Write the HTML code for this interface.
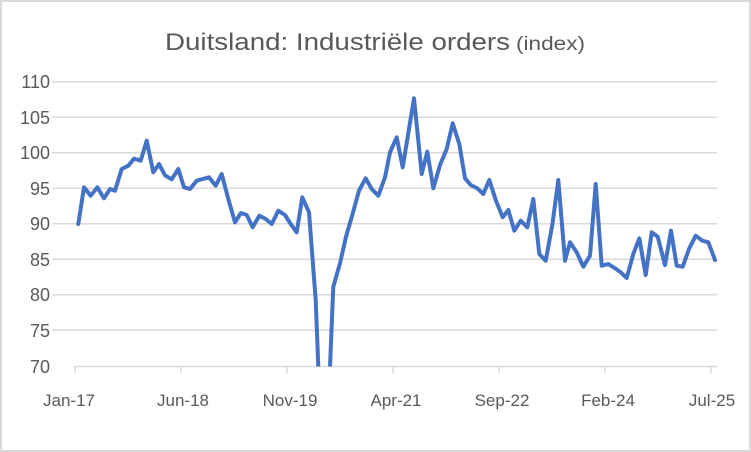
<!DOCTYPE html>
<html><head><meta charset="utf-8"><style>
html,body{margin:0;padding:0;background:#fff}
svg{display:block}
text{font-family:"Liberation Sans",sans-serif;fill:#595959}
</style></head><body>
<svg width="751" height="452" viewBox="0 0 751 452">
<rect x="1" y="1" width="749" height="450" fill="#fff" stroke="#d9d9d9" stroke-width="2"/>
<text x="165" y="50" font-size="24" textLength="345" lengthAdjust="spacingAndGlyphs">Duitsland: Industriële orders</text>
<text x="516" y="50" font-size="19" textLength="69" lengthAdjust="spacingAndGlyphs">(index)</text>
<g stroke="#d9d9d9" stroke-width="1.5">
<line x1="52" x2="717" y1="81.7" y2="81.7"/>
<line x1="52" x2="717" y1="117.2" y2="117.2"/>
<line x1="52" x2="717" y1="152.7" y2="152.7"/>
<line x1="52" x2="717" y1="188.2" y2="188.2"/>
<line x1="52" x2="717" y1="223.7" y2="223.7"/>
<line x1="52" x2="717" y1="259.2" y2="259.2"/>
<line x1="52" x2="717" y1="294.7" y2="294.7"/>
<line x1="52" x2="717" y1="330.2" y2="330.2"/>
<line x1="75" x2="717" y1="366.5" y2="366.5"/>
<line x1="75" x2="75" y1="366" y2="373"/>
<line x1="181" x2="181" y1="366" y2="373"/>
<line x1="287" x2="287" y1="366" y2="373"/>
<line x1="393" x2="393" y1="366" y2="373"/>
<line x1="499" x2="499" y1="366" y2="373"/>
<line x1="605" x2="605" y1="366" y2="373"/>
<line x1="711" x2="711" y1="366" y2="373"/>
</g>
<g font-size="18" text-anchor="end">
<text x="50" y="88">110</text><text x="50" y="124">105</text><text x="50" y="159">100</text>
<text x="50" y="195">95</text><text x="50" y="230">90</text><text x="50" y="266">85</text>
<text x="50" y="301">80</text><text x="50" y="337">75</text><text x="50" y="373">70</text>
</g>
<g font-size="17" text-anchor="middle">
<text x="69" y="406">Jan-17</text><text x="183" y="406">Jun-18</text><text x="290" y="406">Nov-19</text>
<text x="396" y="406">Apr-21</text><text x="502" y="406">Sep-22</text><text x="608" y="406">Feb-24</text>
<text x="712" y="406">Jul-25</text>
</g>
<clipPath id="c"><rect x="52" y="60" width="680" height="306.5"/></clipPath>
<polyline clip-path="url(#c)" fill="none" stroke="#4472c4" stroke-width="4" stroke-linejoin="round" stroke-linecap="round" points="
78.3,224 84,187.3 90.7,195.7 97.3,187.3 104,198.3 110,189 115,190.7 121.7,169 128.3,165.7 134,158.7 140.7,160.7 146.7,140.7 153.3,172.3 159,164 165,175.3 171.7,179.3 178.3,169 184,187.3 190,189 196.7,180.7 202.7,179 209,177.3 215.7,185.7 221.7,174 228.3,199 235,222.3 241,213 246.7,215 252.7,227.3 259.3,215.7 265.7,219 271.7,224 278.3,210.7 285,215 290.7,224 296.7,232.3 302.3,197.3 309,212.3 315.7,300 320,410 327,410 330,367 333.3,286.7 340,263.3 346,236.7 352.3,215 359,190.7 365.7,178.3 371.7,189 378.3,195.7 385,177.3 390,152.3 396.7,137.3 402.7,167.3 414,98.3 421.7,174 427.3,151.7 433.3,188.3 440,165 446.7,149 452.7,123.3 459.3,144 465,178.3 470.7,185 477.3,188.3 483.3,194 489.3,180 496,200.7 502.7,217.3 508.3,210 514.3,230.7 520.7,220.7 527.3,227.3 533.3,199 539.3,254 545.7,260.7 552.3,225 558.3,180 565,260.7 570,242.3 576.7,252.3 583.3,266.7 590,255.7 595.7,184 601.7,265.7 608.3,264 615,268.3 620.7,272.3 626.7,278 633.3,254 639.3,238.3 645.7,275 651.7,232.3 657.7,236.7 665,265 671,230.7 676.7,265.7 682.7,266.7 689,249 695.7,235.7 702.3,240.7 708.3,242.3 715,260"/>
</svg>
</body></html>
